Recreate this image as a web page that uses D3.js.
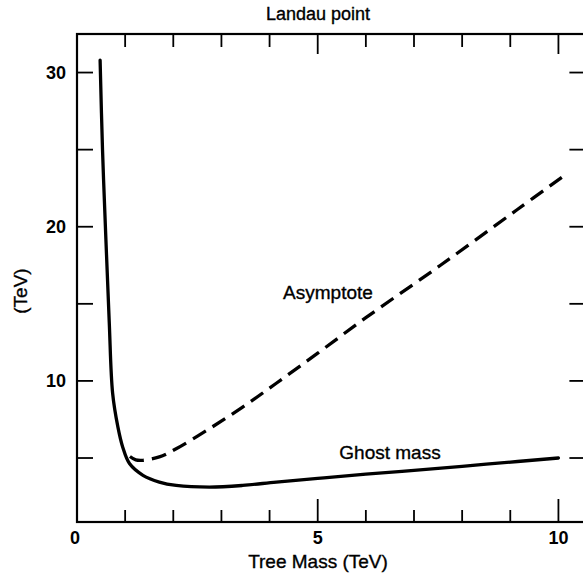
<!DOCTYPE html>
<html>
<head>
<meta charset="utf-8">
<script src="https://cdn.jsdelivr.net/npm/d3@7"></script>
<style>
  html, body { margin: 0; padding: 0; background: #fff; }
  svg { display: block; }
  text { font-family: "Liberation Sans", Arial, Helvetica, sans-serif; fill: #000; }
  text.lbl { stroke: #000; stroke-width: 0.35px; }
</style>
</head>
<body>
<svg id="chart" width="583" height="575"></svg>
<script>
// ---- data ----
const ghostX = [0.48, 0.53, 0.60, 0.67, 0.74, 0.85, 0.95, 1.09, 1.37, 1.71, 2.06, 2.75, 3.44, 4.14, 5.0, 6.0, 7.5, 8.5, 10.0];
const ghostY = [30.8, 25.0, 19.2, 13.8, 9.2, 7.0, 5.7, 4.64, 3.88, 3.44, 3.22, 3.11, 3.22, 3.44, 3.68, 3.95, 4.33, 4.6, 5.0];
const asymX = [1.1, 1.22, 1.37, 1.71, 2.06, 2.75, 3.44, 4.14, 5.0, 6.0, 7.55, 9.14, 10.07];
const asymY = [5.1, 4.88, 4.85, 5.07, 5.6, 6.9, 8.3, 9.85, 11.8, 14.1, 17.5, 21.1, 23.2];
const xMajorTicks = [0, 5, 10];
const xMinorTicks = [1, 2, 3, 4, 6, 7, 8, 9];
const yTicks = [5, 10, 15, 20, 25, 30];
const yTickLabels = [10, 20, 30];
const titleText = "Landau point";
const xTitle = "Tree Mass (TeV)";
const yTitle = "(TeV)";
const asymLabel = "Asymptote";
const ghostLabel = "Ghost mass";

(function () {
const svg = d3.select("#chart");
const x = d3.scaleLinear().domain([0, 10.5]).range([77, 582.5]);
const y = d3.scaleLinear().domain([0.85, 32.5]).range([522, 34]);

const fLeft = x(0), fRight = x(10.56), fTop = y(32.5), fBottom = y(0.85);

const g = svg.append("g");

// frame
g.append("rect")
  .attr("x", fLeft).attr("y", fTop)
  .attr("width", fRight - fLeft).attr("height", fBottom - fTop)
  .attr("fill", "none").attr("stroke", "#000").attr("stroke-width", 2.2);

function tickLine(x1, y1, x2, y2) {
  g.append("line").attr("x1", x1).attr("y1", y1).attr("x2", x2).attr("y2", y2)
    .attr("stroke", "#000").attr("stroke-width", 1.8);
}

// x ticks (bottom and top, inward)
xMinorTicks.forEach(v => {
  tickLine(x(v), fBottom, x(v), fBottom - 12);
  tickLine(x(v), fTop, x(v), fTop + 13);
});
xMajorTicks.filter(v => v > 0).forEach(v => {
  tickLine(x(v), fBottom, x(v), fBottom - 23);
  tickLine(x(v), fTop, x(v), fTop + 20);
});
// y ticks (left and right, inward)
yTicks.forEach(v => {
  tickLine(fLeft, y(v), fLeft + 16, y(v));
  tickLine(fRight, y(v), fRight - 16, y(v));
});

// tick labels
g.selectAll(".xl").data(xMajorTicks).enter().append("text")
  .attr("x", d => x(d) - (d === 0 ? 2 : 0)).attr("y", 544)
  .attr("text-anchor", "middle")
  .attr("font-size", 18).attr("font-weight", "bold")
  .text(d => d);
g.selectAll(".yl").data(yTickLabels).enter().append("text")
  .attr("x", 66).attr("y", d => y(d)).attr("dy", "0.36em")
  .attr("text-anchor", "end")
  .attr("font-size", 18).attr("font-weight", "bold")
  .text(d => d);

// titles
g.append("text").attr("class", "lbl").attr("x", 318).attr("y", 20).attr("text-anchor", "middle")
  .attr("font-size", 18).text(titleText);
g.append("text").attr("class", "lbl").attr("x", 318).attr("y", 568).attr("text-anchor", "middle")
  .attr("font-size", 19).text(xTitle);
g.append("text").attr("class", "lbl").attr("transform", "translate(27,291) rotate(-90)")
  .attr("text-anchor", "middle").attr("font-size", 19).text(yTitle);

// curves
const line = d3.line().x(d => x(d[0])).y(d => y(d[1])).curve(d3.curveCatmullRom.alpha(0.5));
const ghost = ghostX.map((v, i) => [v, ghostY[i]]);
const asym = asymX.map((v, i) => [v, asymY[i]]);

g.append("path").datum(ghost).attr("d", line)
  .attr("fill", "none").attr("stroke", "#000").attr("stroke-width", 3.3)
  .attr("stroke-linecap", "round").attr("stroke-linejoin", "round");
g.append("path").datum(asym).attr("d", line)
  .attr("fill", "none").attr("stroke", "#000").attr("stroke-width", 3.3)
  .attr("stroke-dasharray", "15,8");

// curve labels
g.append("text").attr("class", "lbl").attr("x", 328).attr("y", 299).attr("text-anchor", "middle")
  .attr("font-size", 19).text(asymLabel);
g.append("text").attr("class", "lbl").attr("x", 390).attr("y", 459).attr("text-anchor", "middle")
  .attr("font-size", 19).text(ghostLabel);
})();
</script>
</body>
</html>
